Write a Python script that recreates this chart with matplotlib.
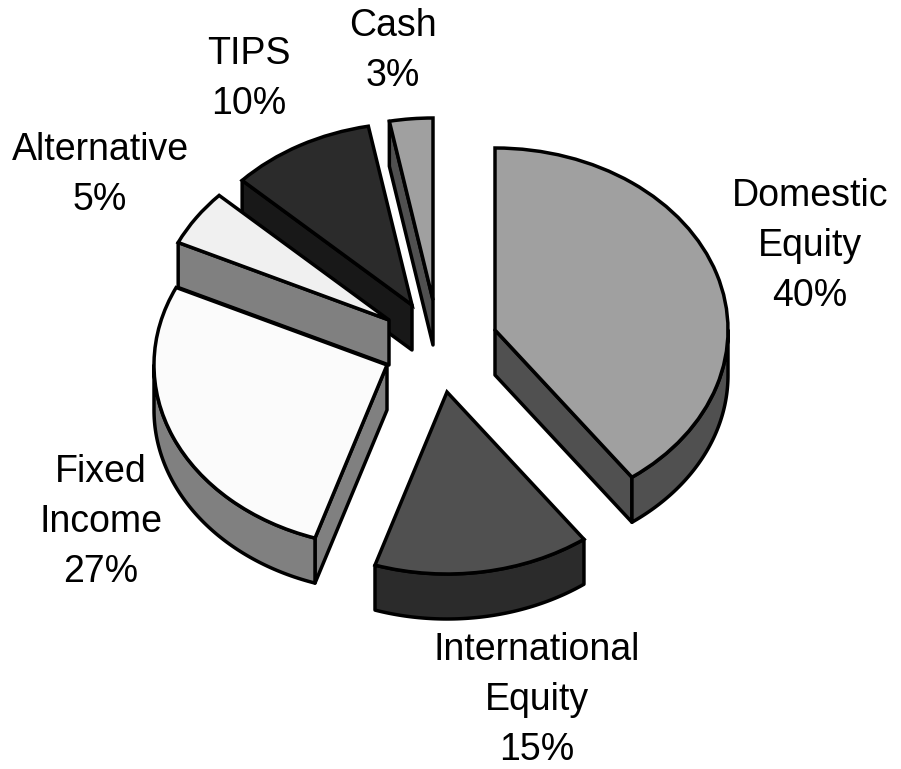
import numpy as np
import matplotlib
matplotlib.use("Agg")
import matplotlib.pyplot as plt
from matplotlib.patches import Wedge, Polygon
from matplotlib.transforms import Affine2D

categories = ["Domestic\nEquity", "International\nEquity", "Fixed\nIncome", "Alternative", "TIPS", "Cash"]
values = [40, 15, 27, 5, 10, 3]

top_colors = ["#A0A0A0", "#505050", "#FBFBFB", "#F0F0F0", "#2B2B2B", "#A0A0A0"]
side_colors = ["#505050", "#2B2B2B", "#808080", "#808080", "#181818", "#505050"]
# Explosion of each slice from the pie's centre, pixels
centre = (430, 330)
explode = [(65, 0), (17, 62), (-43, 35), (-41, -10), (-18, -25), (3, -30)]
label_pos = [(810, 246), (537, 700), (101, 522), (100, 175), (249, 79), (393, 51)]

RX, RY, DEPTH = 233, 182, 45
LW = 2.5

fig = plt.figure(figsize=(9.01, 7.69), dpi=100)
ax = fig.add_axes([0, 0, 1, 1])
ax.set_xlim(0, 901)
ax.set_ylim(769, 0)
ax.axis("off")


def rim(a0, a1, cx, cy, dy=0, n=80):
    t = np.radians(np.linspace(a0, a1, n))
    return np.column_stack([cx + RX * np.sin(t), cy + dy - RY * np.cos(t)])


edges = np.cumsum([0] + values) / sum(values) * 360
# painter's order: back slices first
for i in [5, 4, 3, 2, 1, 0]:
    a0, a1 = edges[i], edges[i + 1]
    cx, cy = centre[0] + explode[i][0], centre[1] + explode[i][1]
    kw = dict(facecolor=side_colors[i], edgecolor="black", linewidth=LW, joinstyle="round")
    # radial walls that face the viewer
    for a, visible in ((a0, np.sin(np.radians(a0)) < -1e-9), (a1, np.sin(np.radians(a1)) > 1e-9)):
        if visible:
            t = np.radians(a)
            px, py = cx + RX * np.sin(t), cy - RY * np.cos(t)
            ax.add_patch(Polygon([(cx, cy), (px, py), (px, py + DEPTH), (cx, cy + DEPTH)], **kw))
    # outer rim, front half of the ellipse only
    r0, r1 = max(a0, 90), min(a1, 270)
    if r1 > r0:
        ax.add_patch(Polygon(np.vstack([rim(r0, r1, cx, cy), rim(r1, r0, cx, cy, DEPTH)]), **kw))
    # top face: a unit wedge squashed into the pie's ellipse
    wedge = Wedge((0, 0), 1, 90 - a1, 90 - a0, facecolor=top_colors[i], edgecolor="black", linewidth=LW)
    wedge.set_transform(Affine2D().scale(RX, -RY).translate(cx, cy) + ax.transData)
    ax.add_patch(wedge)

for name, val, pos in zip(categories, values, label_pos):
    ax.text(pos[0], pos[1], f"{name}\n{val}%", ha="center", va="center",
            fontsize=27, family="Liberation Sans", linespacing=1.5, color="black")

fig.savefig("out.png", dpi=100, facecolor="white")
